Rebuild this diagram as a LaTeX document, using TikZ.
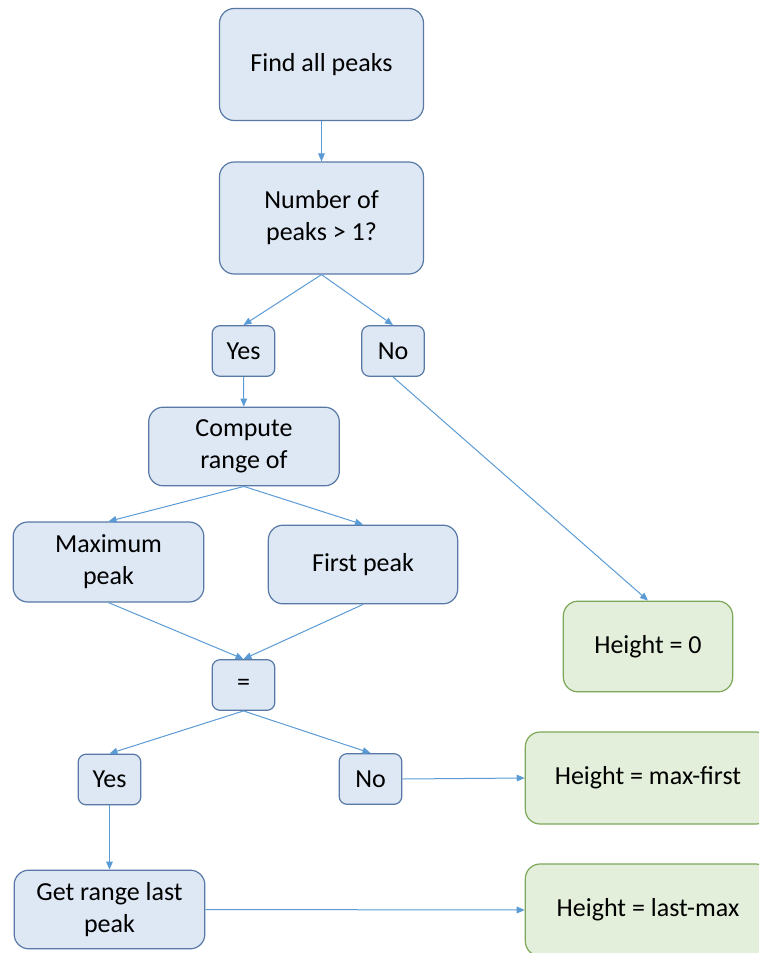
\documentclass[tikz,border=0pt]{standalone}
\usepackage{fontspec}
\setmainfont{Carlito}
\usepackage{xcolor}
\usetikzlibrary{arrows.meta}

\definecolor{boxblue}{HTML}{DDE8F4}
\definecolor{lineblue}{HTML}{5879A6}
\definecolor{boxgreen}{HTML}{E3EFDA}
\definecolor{linegreen}{HTML}{7DA85A}
\definecolor{arrowblue}{HTML}{5B9BD5}

\tikzset{
	stepbox/.style={draw=lineblue, line width=0.9pt, fill=boxblue, rounded corners=11pt, align=center, inner sep=2pt},
	smallbox/.style={draw=lineblue, line width=0.9pt, fill=boxblue, rounded corners=6pt, minimum width=47pt, minimum height=38pt},
	endbox/.style={draw=linegreen, line width=0.9pt, fill=boxgreen, rounded corners=11pt, align=center},
	flow/.style={draw=arrowblue, line width=0.75pt, -{Triangle[length=6pt,width=5pt]}}
}

\begin{document}
\begin{tikzpicture}[x=0.75pt, y=-0.75pt, font=\fontsize{19.5}{24}\selectfont]
		\useasboundingbox (0,0) rectangle (759,953);
		\clip (0,0) rectangle (759,953);
		
		%Main column
		\node[stepbox, minimum width=153pt, minimum height=84pt] (find) at (321.5,64.5) {Find all peaks};
		\node[stepbox, minimum width=153pt, minimum height=84pt] (num) at (321.5,218) {Number of\\peaks > 1?};
		\node[smallbox] (yesA) at (243.5,351) {Yes};
		\node[smallbox] (noA) at (393,351) {No};
		\node[stepbox, minimum width=143pt, minimum height=59pt] (comp) at (244,446.5) {Compute\\range of};
		
		%Ranges
		\node[stepbox, minimum width=143pt, minimum height=60pt] (maxp) at (108.5,562) {Maximum\\peak};
		\node[stepbox, minimum width=142pt, minimum height=59pt] (firstp) at (363,564.5) {First peak};
		\node[smallbox] (eq) at (243.5,685) {=};
		\node[smallbox] (yesB) at (109.5,779.5) {Yes};
		\node[smallbox] (noB) at (370.5,779) {No};
		\node[stepbox, minimum width=143pt, minimum height=59pt] (last) at (109.5,909.5) {Get range last\\peak};
		
		%Results
		\node[endbox, minimum width=127pt, minimum height=68pt] (hzero) at (648,646.5) {Height = 0};
		\node[endbox, minimum width=184pt, minimum height=69pt] (hmf) at (648,778) {Height = max-first};
		\node[endbox, minimum width=184pt, minimum height=69pt] (hlm) at (648,910) {Height = last-max};
		
		%Arrows
		\draw[flow] (find) -- (num);
		\draw[flow] (num.south) -- (yesA.north);
		\draw[flow] (num.south) -- (noA.north);
		\draw[flow] (yesA) -- (comp);
		\draw[flow] (noA.south) -- (hzero.north);
		\draw[flow] (comp.south) -- (maxp.north);
		\draw[flow] (comp.south) -- (firstp.north);
		\draw[flow] (maxp.south) -- (eq.north);
		\draw[flow] (firstp.south) -- (eq.north);
		\draw[flow] (eq.south) -- (yesB.north);
		\draw[flow] (eq.south) -- (noB.north);
		\draw[flow] (noB.east) -- (hmf.west);
		\draw[flow] (yesB) -- (last);
		\draw[flow] (last.east) -- (hlm.west);
	\end{tikzpicture}
\end{document}
